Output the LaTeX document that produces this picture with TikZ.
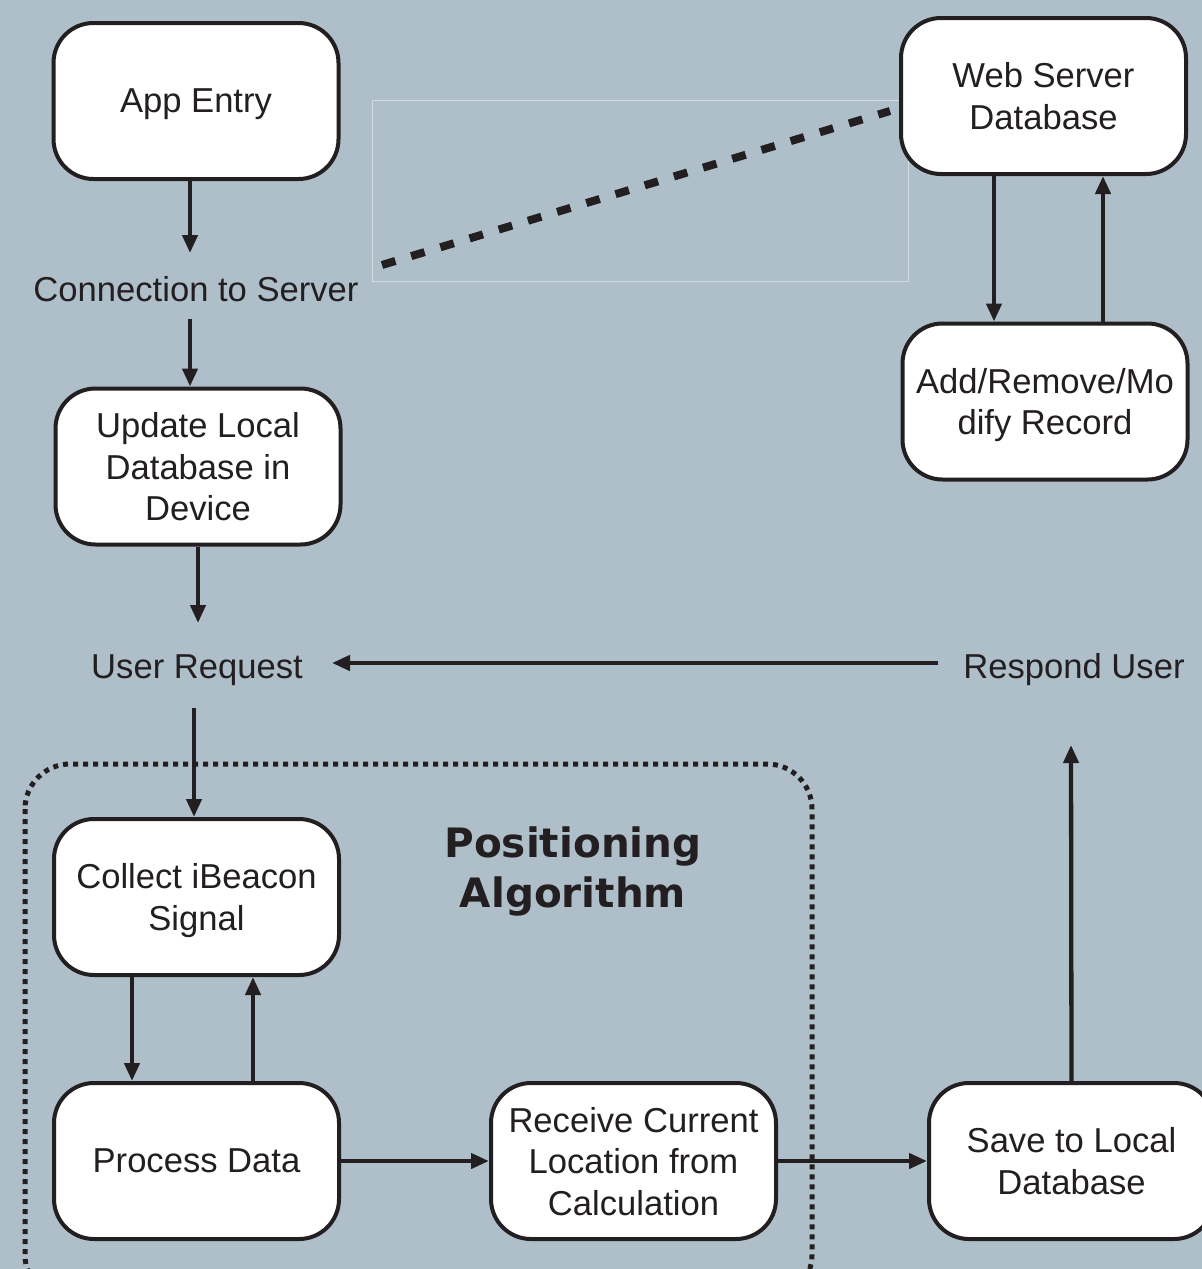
\documentclass[tikz,border=0pt]{standalone}
\usepackage{fontspec}
\setmainfont{Liberation Sans}
\newfontfamily\titlefont{DejaVu Sans}
\usetikzlibrary{arrows.meta}
\definecolor{bg}{RGB}{175,191,202}
\definecolor{ink}{RGB}{35,31,32}
\begin{document}
\begin{tikzpicture}[x=1pt,y=-1pt,
  box/.style={draw=ink, fill=white, line width=4pt, rounded corners=40pt,
    minimum width=285pt, minimum height=156pt, align=center, inner sep=0pt,
    text depth=0pt,
    font=\fontsize{34.6}{41.5}\selectfont, text=ink},
  lbl/.style={font=\fontsize{34.6}{41.5}\selectfont, text=ink, inner sep=0pt, anchor=base},
  arr/.style={draw=ink, line width=4.3pt, -{Triangle[length=18pt,width=15pt]}},
  dashline/.style={draw=ink, line width=8pt, dash pattern=on 14pt off 16.5pt},
  dotframe/.style={draw=ink, line width=5pt, dash pattern=on 5pt off 5pt, rounded corners=45pt},
]
\clip (0,0) rectangle (1202,1269);
\fill[bg] (0,0) rectangle (1202,1269);

% faint rectangle
\draw[white, opacity=0.45, line width=1pt] (372,100) rectangle (908,281);

% dotted frame
\draw[dotframe] (25,764) rectangle (812,1300);

% boxes
\node[box] (app) at (196,101) {App Entry};
\node[box] (web) at (1043.5,96) {Web Server\\Database};
\node[box] (mod) at (1045,401.5) {Add/Remove/Mo\\dify Record};
\node[box] (upd) at (198,466.5) {Update Local\\Database in\\Device};
\node[box] (col) at (196.5,897) {Collect iBeacon\\Signal};
\node[box] (proc) at (196.5,1161) {Process Data};
\node[box] (recv) at (633.5,1161) {Receive Current\\Location from\\Calculation};
\node[box] (save) at (1071.5,1161) {Save to Local\\Database};

% labels
\node[lbl] (conn) at (196,301) {Connection to Server};
\node[lbl] (usr) at (197,678) {User Request};
\node[lbl] (resp) at (1074,678) {Respond User};
\node[font=\titlefont\bfseries\fontsize{40.5}{50}\selectfont, text=ink, align=center, inner sep=0pt]
  (title) at (573,871) {Positioning\\Algorithm};

% free ends
\coordinate (t1) at (190,253);
\coordinate (s2) at (190,319);
\coordinate (t3) at (198,623);
\coordinate (s4) at (194,708);
\coordinate (t9) at (1071,745);
\coordinate (s10) at (938,663);
\coordinate (t10) at (332,663);
\coordinate (d1) at (382,265);
\coordinate (d2) at (890,111);

% connectors
\draw[arr] ([xshift=-6pt]app.south) -- (t1);
\draw[arr] (s2) -- ([xshift=-8pt]upd.north);
\draw[arr] (upd.south) -- (t3);
\draw[arr] (s4) -- ([xshift=-2.5pt]col.north);
\draw[arr] ([xshift=-64.5pt]col.south) -- ([xshift=-64.5pt]proc.north);
\draw[arr] ([xshift=56.5pt]proc.north) -- ([xshift=56.5pt]col.south);
\draw[arr] (proc.east) -- (recv.west);
\draw[arr] (recv.east) -- (save.west);
\draw[arr] (save.north) -- (t9);
\draw[arr] (s10) -- (t10);
\draw[arr] ([xshift=-49.5pt]web.south) -- ([xshift=-51pt]mod.north);
\draw[arr] ([xshift=58pt]mod.north) -- ([xshift=59.5pt]web.south);
\draw[dashline] (d1) -- (d2);
\end{tikzpicture}
\end{document}
